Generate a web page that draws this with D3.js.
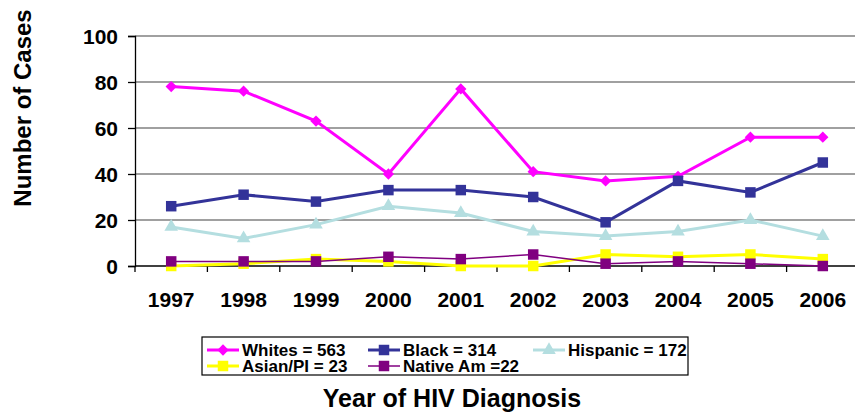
<!DOCTYPE html>
<html>
<head>
<meta charset="utf-8">
<script src="https://cdn.jsdelivr.net/npm/d3@7"></script>
<style>
  body { margin: 0; background: #fff; }
  svg text { font-family: "Liberation Sans", Arial, sans-serif; font-weight: bold; fill: #000; }
</style>
</head>
<body>
<div class="chart"></div>
<script>
// data
var years = ['1997','1998','1999','2000','2001','2002','2003','2004','2005','2006'];
var whites   = [78, 76, 63, 40, 77, 41, 37, 39, 56, 56];
var black    = [26, 31, 28, 33, 33, 30, 19, 37, 32, 45];
var hispanic = [17, 12, 18, 26, 23, 15, 13, 15, 20, 13];
var asian    = [0, 1, 3, 2, 0, 0, 5, 4, 5, 3];
var native   = [2, 2, 2, 4, 3, 5, 1, 2, 1, 0];
var seriesNames = ['Whites = 563', 'Black = 314', 'Hispanic = 172', 'Asian/PI = 23', 'Native Am =22'];
var yTicks = [0, 20, 40, 60, 80, 100];

var svgWidth = 855;
var svgHeight = 413;
var margin = {top: 36, right: -4, bottom: 147, left: 135};
var width = svgWidth - margin.left - margin.right;
var height = svgHeight - margin.top - margin.bottom;

var svg = d3.select('.chart')
    .append('svg')
    .attr('width', svgWidth)
    .attr('height', svgHeight);
var chart = svg.append('g')
    .attr('transform', 'translate(' + margin.left + ',' + margin.top + ')');

var xBand = d3.scaleBand().domain(years).range([0, width]);
var yLinearScale = d3.scaleLinear().domain([0, 100]).range([height, 0]);
function xc(d) { return xBand(d) + xBand.bandwidth() / 2; }

// gridlines
chart.selectAll('.grid')
    .data(yTicks.slice(1))
    .enter()
    .append('line')
    .attr('x1', 0)
    .attr('x2', width)
    .attr('y1', function(d) { return yLinearScale(d); })
    .attr('y2', function(d) { return yLinearScale(d); })
    .attr('stroke', '#808080')
    .attr('stroke-width', 1.3);

// y axis
var leftAxis = d3.axisLeft(yLinearScale).tickValues(yTicks).tickSize(7).tickPadding(10);
var gy = chart.append('g').call(leftAxis);
gy.select('.domain').attr('stroke', '#000').attr('stroke-width', 1.3);
gy.selectAll('.tick line').attr('stroke', '#000').attr('stroke-width', 1.3);
gy.selectAll('.tick text').style('font-size', '21px').attr('dy', '0.35em');

// x axis: ticks on band boundaries
chart.append('line')
    .attr('x1', 0).attr('x2', width)
    .attr('y1', height).attr('y2', height)
    .attr('stroke', '#000').attr('stroke-width', 1.5);
chart.selectAll('.xtick')
    .data(years.concat(['end']))
    .enter()
    .append('line')
    .attr('x1', function(d, i) { return i * xBand.bandwidth(); })
    .attr('x2', function(d, i) { return i * xBand.bandwidth(); })
    .attr('y1', height)
    .attr('y2', height + 6)
    .attr('stroke', '#000')
    .attr('stroke-width', 1.3);
chart.selectAll('.xlabel')
    .data(years)
    .enter()
    .append('text')
    .attr('x', xc)
    .attr('y', height + 41)
    .attr('text-anchor', 'middle')
    .style('font-size', '21px')
    .text(function(d) { return d; });

// series
var series = [
    {name: seriesNames[0], values: whites,   color: '#FF00FF', width: 3,   shape: d3.symbolSquare,   size: 64,  rot: 45},
    {name: seriesNames[1], values: black,    color: '#333399', width: 3,   shape: d3.symbolSquare,   size: 110, rot: 0},
    {name: seriesNames[2], values: hispanic, color: '#B4DEE0', width: 3,   shape: d3.symbolTriangle, size: 80,  rot: 0},
    {name: seriesNames[3], values: asian,    color: '#FFFF00', width: 3,   shape: d3.symbolSquare,   size: 110, rot: 0},
    {name: seriesNames[4], values: native,   color: '#800080', width: 1.5, shape: d3.symbolSquare,   size: 110, rot: 0}
];

var line = d3.line()
    .x(function(d, i) { return xc(years[i]); })
    .y(function(d) { return yLinearScale(d); });

series.forEach(function(s) {
    var g = chart.append('g');
    g.append('path')
        .attr('d', line(s.values))
        .attr('fill', 'none')
        .attr('stroke', s.color)
        .attr('stroke-width', s.width);
    g.selectAll('path.pt')
        .data(s.values)
        .enter()
        .append('path')
        .attr('class', 'pt')
        .attr('d', d3.symbol().type(s.shape).size(s.size))
        .attr('transform', function(d, i) {
            return 'translate(' + xc(years[i]) + ',' + yLinearScale(d) + ') rotate(' + s.rot + ')';
        })
        .attr('fill', s.color);
});

// legend
var legend = svg.append('g').attr('transform', 'translate(202,337)');
legend.append('rect')
    .attr('width', 486).attr('height', 38)
    .attr('fill', '#fff').attr('stroke', '#000').attr('stroke-width', 1.2);
var colX = [5, 166, 331];
var rowY = [13, 29];
series.forEach(function(s, i) {
    var gx = colX[i % 3], gy2 = rowY[Math.floor(i / 3)];
    var item = legend.append('g').attr('transform', 'translate(' + gx + ',' + gy2 + ')');
    item.append('line')
        .attr('x1', 0).attr('x2', 32)
        .attr('stroke', s.color).attr('stroke-width', s.width);
    item.append('path')
        .attr('d', d3.symbol().type(s.shape).size(s.size))
        .attr('transform', 'translate(16,0) rotate(' + s.rot + ')')
        .attr('fill', s.color);
    item.append('text')
        .attr('x', 35).attr('y', 6)
        .style('font-size', '17px')
        .text(s.name);
});

// axis titles
svg.append('text')
    .attr('transform', 'translate(31,108) rotate(-90)')
    .attr('text-anchor', 'middle')
    .style('font-size', '24px')
    .text('Number of Cases');
svg.append('text')
    .attr('x', 452)
    .attr('y', 407)
    .attr('text-anchor', 'middle')
    .style('font-size', '25px')
    .text('Year of HIV Diagnosis');
</script>
</body>
</html>
